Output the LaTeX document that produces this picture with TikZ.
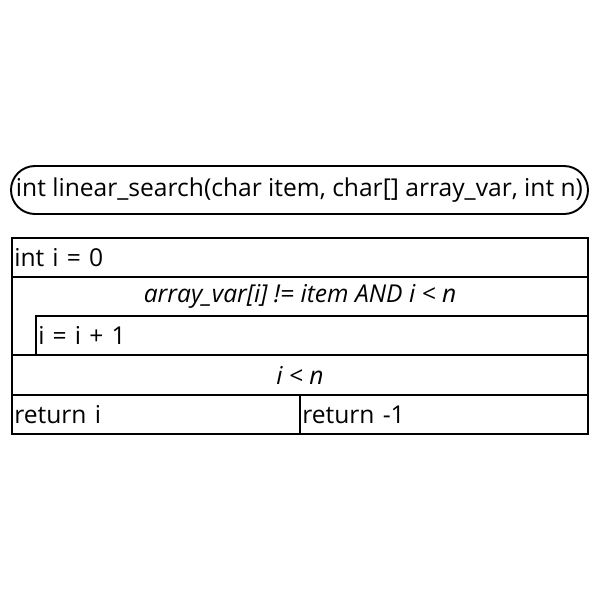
\documentclass[tikz,border=0pt]{standalone}
\usepackage{fontspec}
\setmainfont{Open Sans}
\usetikzlibrary{positioning}

\begin{document}
\begin{tikzpicture}[line width=1.1pt,font=\fontsize{14}{16}\selectfont]
\tikzstyle{every node}=[inner xsep=1.3pt,inner ysep=0pt,outer sep=0pt]
\tikzstyle{block}=[draw,rectangle,anchor=north west,minimum height=0.78cm,align=left]
\tikzstyle{cond}=[font=\fontsize{14}{16}\selectfont\itshape]
\useasboundingbox (0,0) rectangle (12,-12);
\node[draw,rounded corners=0.48cm,minimum width=11.54cm,minimum height=0.96cm] (start) at (5.99,-3.8)
 {int linear\_search(char item, char[] array\_var, int n)};
\node[block,text width=11.52cm-2.6pt] (init) at (0.24,-4.76) {int i = 0};
\node[block,minimum width=11.52cm,minimum height=1.56cm] (loop) at (0.24,-5.54) {};
\node[cond,minimum height=0.78cm,below=0pt of loop.north] (loopcond) {array\_var[i] != item AND i < n};
\node[block,text width=11.04cm-2.6pt] (body) at (0.72,-6.32) {i = i + 1};
\node[block,minimum width=11.52cm,minimum height=0.80cm] (test) at (0.24,-7.10) {};
\node[cond] (testcond) at (test.center) {i < n};
\node[block,text width=5.76cm-2.6pt] (yes) at (0.24,-7.90) {return i};
\node[block,text width=5.76cm-2.6pt] (no) at (6.00,-7.90) {return -1};
\end{tikzpicture}
\end{document}
